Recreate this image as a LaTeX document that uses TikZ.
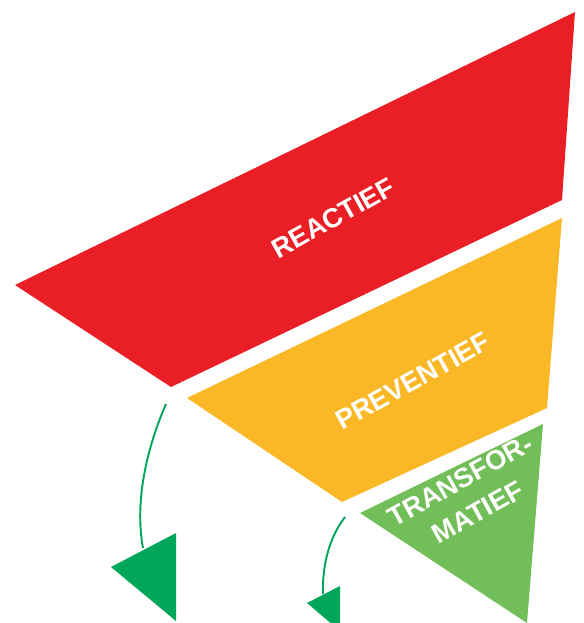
\documentclass[tikz,border=0pt]{standalone}
\usepackage{fontspec}
\setmainfont{Liberation Sans}
\definecolor{reactred}{RGB}{233,31,37}
\definecolor{preventyellow}{RGB}{251,184,38}
\definecolor{transgreen}{RGB}{114,190,88}
\definecolor{arrowgreen}{RGB}{0,166,90}
\tikzset{
  bandlabel/.style={text=white, font=\bfseries\fontsize{15.5}{20.5}\selectfont, rotate=29, align=center, inner sep=0pt},
  bendline/.style={arrowgreen, line width=1.1pt},
  tipfill/.style={fill=arrowgreen}
}
\begin{document}
\begin{tikzpicture}[x=0.02cm, y=-0.02cm]
        \useasboundingbox (0,0) rectangle (583,623);

        % Funnel bands
        \fill[reactred] (575,12) -- (562,200) -- (171,387) -- (15,285) -- cycle;
        \fill[preventyellow] (562,218) -- (547,408) -- (342,502) -- (187,398) -- cycle;
        \fill[transgreen] (543,424) -- (527,623) -- (360,513) -- cycle;

        \node[bandlabel] (reactief) at (333,218) {REACTIEF};
        \node[bandlabel] (preventief) at (413,381) {PREVENTIEF};
        \node[bandlabel] (transformatief) at (469,496) {TRANSFOR-\\MATIEF};

        % Bent arrows out of the gaps
        \coordinate (bendA) at (166,404);
        \coordinate (tipA) at (143,548);
        \draw[bendline] (bendA) .. controls (148,445) and (134,500) .. (tipA);
        \fill[tipfill] (176,533) -- (176,621) -- (111,567) -- cycle;

        \coordinate (bendB) at (345,517);
        \coordinate (tipB) at (323,594);
        \draw[bendline] (bendB) .. controls (331,535) and (322,562) .. (tipB);
        \begin{scope}
          \clip (0,0) rectangle (583,623);
          \fill[tipfill] (340,586) -- (340,631) -- (307,603) -- cycle;
        \end{scope}
\end{tikzpicture}
\end{document}
